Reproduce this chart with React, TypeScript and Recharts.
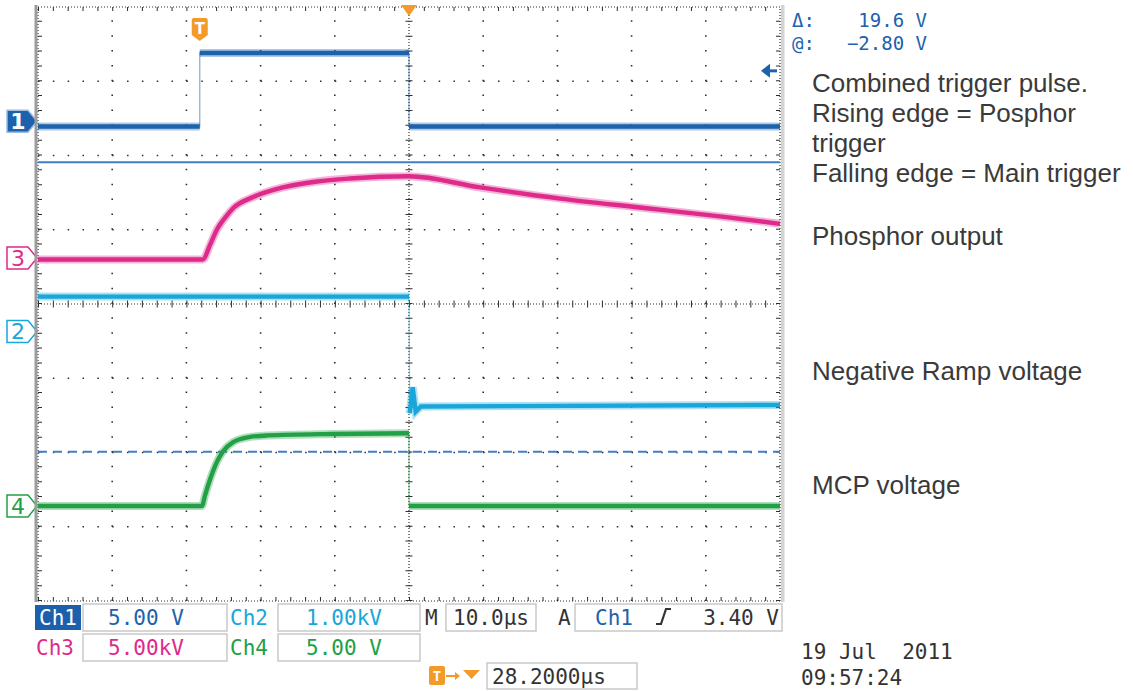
import React from "react";
import { ComposedChart, Line, XAxis, YAxis, ReferenceLine, ReferenceDot } from "recharts";

// time: µs from screen centre (10 µs/div) ; level: divisions from screen centre
const ch1Time = [-50, -28.2, -28.2, -28.2, 0, 0, 0, 50];
const ch1Level = [2.39, 2.39, null, 3.38, 3.38, null, 2.39, 2.39];

const ch3Time = [-50, -27.8, -26.8, -25.9, -24.8, -23.7, -21.0, -17.0, -12.4, -8.0, 0, 9.6, 20.4, 31.1, 41.9, 50];
const ch3Level = [0.6, 0.6, 0.8, 1.0, 1.16, 1.29, 1.44, 1.57, 1.65, 1.69, 1.72, 1.57, 1.42, 1.3, 1.18, 1.08];

const ch2Time = [-50, 0, 0, 0.1, 0.5, 0.9, 1.6, 50];
const ch2Level = [0.1, 0.1, null, -1.47, -1.12, -1.45, -1.38, -1.36];

const ch4Time = [-50, -27.9, -27.5, -26.8, -25.9, -25.1, -23.7, -21.4, -19.1, -10.2, 0, 0, 0, 50];
const ch4Level = [-2.72, -2.72, -2.58, -2.36, -2.13, -1.99, -1.86, -1.79, -1.77, -1.75, -1.74, null, -2.72, -2.72];

const markerLabels = ["1", "3", "2", "4"];
const markerLevels = [2.46, 0.62, -0.37, -2.72];

const cursorSolid = 1.91;
const cursorDashed = -1.99;
const triggerTime = -28.2;
const triggerVolts = 3.4;
const ch1VoltsPerDiv = 5;

const majorTimes = [-40, -30, -20, -10, 10, 20, 30, 40];
const majorLevels = [-3, -2, -1, 1, 2, 3];

const annotationLines = [
  "Combined trigger pulse.",
  "Rising edge = Posphor",
  "trigger",
  "Falling edge = Main trigger",
  "Phosphor output",
  "Negative Ramp voltage",
  "MCP voltage",
];
const annotationBaselines = [92, 122, 152, 182, 245, 380, 494];

const C1 = "#1c62ad";
const C2 = "#19a6da";
const C3 = "#dd2a8b";
const C4 = "#22a046";
const ORANGE = "#f39a2b";
const markerColors = [C1, C3, C2, C4];

const MONO = "'DejaVu Sans Mono', monospace";
const GRID = "#2e2e2e";

const rows = (t: number[], v: (number | null)[]) => t.map((x, i) => ({ t: x, v: v[i] }));

const traceLines = (key: string, data: any[], color: string, curve: any) => [
  <Line key={key + "-edge"} data={data} dataKey="v" type="linear" stroke={color} strokeOpacity={0.5}
    strokeWidth={1.3} connectNulls dot={false} activeDot={false} isAnimationActive={false} />,
  <Line key={key + "-halo"} data={data} dataKey="v" type={curve} stroke={color} strokeOpacity={0.35}
    strokeWidth={8} dot={false} activeDot={false} isAnimationActive={false} />,
  <Line key={key + "-core"} data={data} dataKey="v" type={curve} stroke={color}
    strokeWidth={4.4} dot={false} activeDot={false} isAnimationActive={false} />,
];

const ChannelTag = ({ cx, cy, label, color, filled }: any) => (
  <g>
    <path d={`M${cx - 31},${cy - 11} H${cx - 10} L${cx - 1},${cy} L${cx - 10},${cy + 11} H${cx - 31} Z`}
      fill={filled ? color : "#fff"} stroke={filled ? "#9fbbe0" : color} strokeWidth={1.5} />
    <text x={cx - 20} y={cy + 8} textAnchor="middle" fontSize={22} fontFamily="'DejaVu Sans', sans-serif"
      fontWeight={filled ? "bold" : "normal"} fill={filled ? "#fff" : color}>{label}</text>
  </g>
);

const TriggerFlag = ({ cx, cy }: any) => (
  <g>
    <path d={`M${cx - 8},${cy + 13} q0,-2 2,-2 h12 q2,0 2,2 v15 l-8,6 l-8,-6 Z`} fill={ORANGE} />
    <text x={cx} y={cy + 27} textAnchor="middle" fontSize={15} fontWeight="bold" fill="#fff"
      fontFamily="'DejaVu Sans', sans-serif">T</text>
  </g>
);

const TopTriangle = ({ cx, cy }: any) => (
  <path d={`M${cx - 8},${cy - 2} L${cx + 8},${cy - 2} L${cx},${cy + 9} Z`} fill={ORANGE} />
);

const LevelArrow = ({ cx, cy }: any) => (
  <g fill={C1}>
    <path d={`M${cx - 19},${cy} L${cx - 10},${cy - 7} L${cx - 10},${cy + 7} Z`} />
    <rect x={cx - 10} y={cy - 1.5} width={7} height={3} />
  </g>
);

const App = () => {
  const ch1 = rows(ch1Time, ch1Level);
  const ch2 = rows(ch2Time, ch2Level);
  const ch3 = rows(ch3Time, ch3Level);
  const ch4 = rows(ch4Time, ch4Level);
  const triggerLevel = markerLevels[0] + triggerVolts / ch1VoltsPerDiv;
  const pxY = 8 / 594;
  const pxX = 100 / 742;

  return (
    <div style={{ position: "absolute", left: 0, top: 0, width: 1133, height: 691, background: "#fff" }}>
      <ComposedChart width={1133} height={691} margin={{ top: 7, right: 353, bottom: 90, left: 38 }}>
        <XAxis dataKey="t" type="number" domain={[-50, 50]} hide />
        <YAxis type="number" domain={[-4, 4]} hide />

        {majorTimes.map((t) => (
          <ReferenceLine key={"gx" + t} x={t} stroke={GRID} strokeWidth={1.6} strokeDasharray="1.5 13.35" />
        ))}
        {majorLevels.map((l) => (
          <ReferenceLine key={"gy" + l} y={l} stroke={GRID} strokeWidth={1.6} strokeDasharray="1.5 13.34" />
        ))}
        <ReferenceLine x={0} stroke={GRID} strokeWidth={1.2} strokeDasharray="1 2" />
        <ReferenceLine x={0} stroke={GRID} strokeWidth={7} strokeDasharray="1 13.85" />
        <ReferenceLine y={0} stroke={GRID} strokeWidth={1.2} strokeDasharray="1 2" />
        <ReferenceLine y={0} stroke={GRID} strokeWidth={7} strokeDasharray="1 13.84" />

        <ReferenceLine y={4} stroke={GRID} strokeWidth={1.2} strokeDasharray="1 2" />
        <ReferenceLine y={4 - 2 * pxY} stroke={GRID} strokeWidth={4} strokeDasharray="1 13.84" />
        <ReferenceLine y={-4} stroke={GRID} strokeWidth={1.2} strokeDasharray="1 2" />
        <ReferenceLine y={-4 + 2 * pxY} stroke={GRID} strokeWidth={4} strokeDasharray="1 13.84" />
        <ReferenceLine x={-50} stroke={GRID} strokeWidth={1.2} strokeDasharray="1 2" />
        <ReferenceLine x={-50 + 2 * pxX} stroke={GRID} strokeWidth={4} strokeDasharray="1 13.85" />
        <ReferenceLine x={50} stroke={GRID} strokeWidth={1.2} strokeDasharray="1 2" />
        <ReferenceLine x={50 - 2 * pxX} stroke={GRID} strokeWidth={4} strokeDasharray="1 13.85" />

        <ReferenceLine y={cursorSolid} stroke="#3f7fc4" strokeWidth={2} />
        <ReferenceLine y={cursorDashed} stroke="#3f7fc4" strokeWidth={2} strokeDasharray="9 6" />

        {traceLines("ch1", ch1, C1, "linear")}
        {traceLines("ch3", ch3, C3, "monotone")}
        {traceLines("ch2", ch2, C2, "linear")}
        {traceLines("ch4", ch4, C4, "monotone")}

        {markerLabels.map((lab, i) => (
          <ReferenceDot key={"m" + lab} x={-50} y={markerLevels[i]} r={0}
            shape={(p: any) => <ChannelTag cx={p.cx} cy={p.cy} label={lab} color={markerColors[i]} filled={i === 0} />} />
        ))}
        <ReferenceDot x={triggerTime} y={4} r={0} shape={(p: any) => <TriggerFlag cx={p.cx} cy={p.cy} />} />
        <ReferenceDot x={0} y={4} r={0} shape={(p: any) => <TopTriangle cx={p.cx} cy={p.cy} />} />
        <ReferenceDot x={50} y={triggerLevel} r={0} shape={(p: any) => <LevelArrow cx={p.cx} cy={p.cy} />} />
      </ComposedChart>

      <svg width={1133} height={691} style={{ position: "absolute", left: 0, top: 0, pointerEvents: "none" }}>
        <rect x={34.5} y={5} width={3} height={597} fill="#9c9c9c" />
        <rect x={781} y={5} width={3.5} height={597} fill="#d4d4d4" />

        <g fontFamily={MONO} fontSize={19} fill={C1}>
          <text x={792} y={27}>Δ:</text>
          <text x={927} y={27} textAnchor="end">19.6 V</text>
          <text x={792} y={50}>@:</text>
          <text x={927} y={50} textAnchor="end">−2.80 V</text>
        </g>

        <g fontFamily="'Liberation Sans', Arial, sans-serif" fontSize={26} fill="#3a3a3a">
          {annotationLines.map((s, i) => (
            <text key={s} x={812} y={annotationBaselines[i]}>{s}</text>
          ))}
        </g>

        <g fontFamily={MONO} fontSize={21}>
          <rect x={35} y={605} width={46} height={25} fill="#1c5fab" />
          <text x={58} y={625} textAnchor="middle" fill="#fff">Ch1</text>
          <rect x={83} y={604} width={144} height={27} fill="#fff" stroke="#c9c9c9" strokeWidth={1.5} />
          <text x={146} y={625} textAnchor="middle" fill={C1}>5.00 V</text>
          <text x={230} y={625} fill={C2}>Ch2</text>
          <rect x={278} y={604} width={142} height={27} fill="#fff" stroke="#c9c9c9" strokeWidth={1.5} />
          <text x={344} y={625} textAnchor="middle" fill={C2}>1.00kV</text>
          <text x={425} y={625} fill="#333">M</text>
          <rect x={446} y={604} width={90} height={27} fill="#fff" stroke="#c9c9c9" strokeWidth={1.5} />
          <text x={491} y={625} textAnchor="middle" fill="#333">10.0µs</text>
          <text x={558} y={625} fill="#333">A</text>
          <rect x={575} y={604} width={207} height={27} fill="#fff" stroke="#c9c9c9" strokeWidth={1.5} />
          <text x={595} y={625} fill={C1}>Ch1</text>
          <path d="M656,624 h5 l5,-15 h5" fill="none" stroke="#333" strokeWidth={2.2} />
          <text x={779} y={625} textAnchor="end" fill="#333">3.40 V</text>

          <text x={36} y={655} fill={C3}>Ch3</text>
          <rect x={83} y={634} width={144} height={27} fill="#fff" stroke="#c9c9c9" strokeWidth={1.5} />
          <text x={146} y={655} textAnchor="middle" fill={C3}>5.00kV</text>
          <text x={230} y={655} fill={C4}>Ch4</text>
          <rect x={278} y={634} width={142} height={27} fill="#fff" stroke="#c9c9c9" strokeWidth={1.5} />
          <text x={344} y={655} textAnchor="middle" fill={C4}>5.00 V</text>

          <rect x={429} y={666} width={16} height={19} rx={2} fill={ORANGE} />
          <text x={437} y={681} textAnchor="middle" fontSize={14} fontWeight="bold" fill="#fff">T</text>
          <path d="M446,676 h10" stroke={ORANGE} strokeWidth={2} />
          <path d="M455,672 l5,4 l-5,4 Z" fill={ORANGE} />
          <path d="M463,670 h17 l-8.5,9 Z" fill={ORANGE} />
          <rect x={487} y={663} width={150} height={26} fill="#fff" stroke="#c9c9c9" strokeWidth={1.5} />
          <text x={492} y={684} fill="#333">28.2000µs</text>

          <text x={801} y={659} fill="#333" style={{ whiteSpace: "pre" }}>19 Jul  2011</text>
          <text x={801} y={685} fill="#333">09:57:24</text>
        </g>
      </svg>
    </div>
  );
};

export default App;
